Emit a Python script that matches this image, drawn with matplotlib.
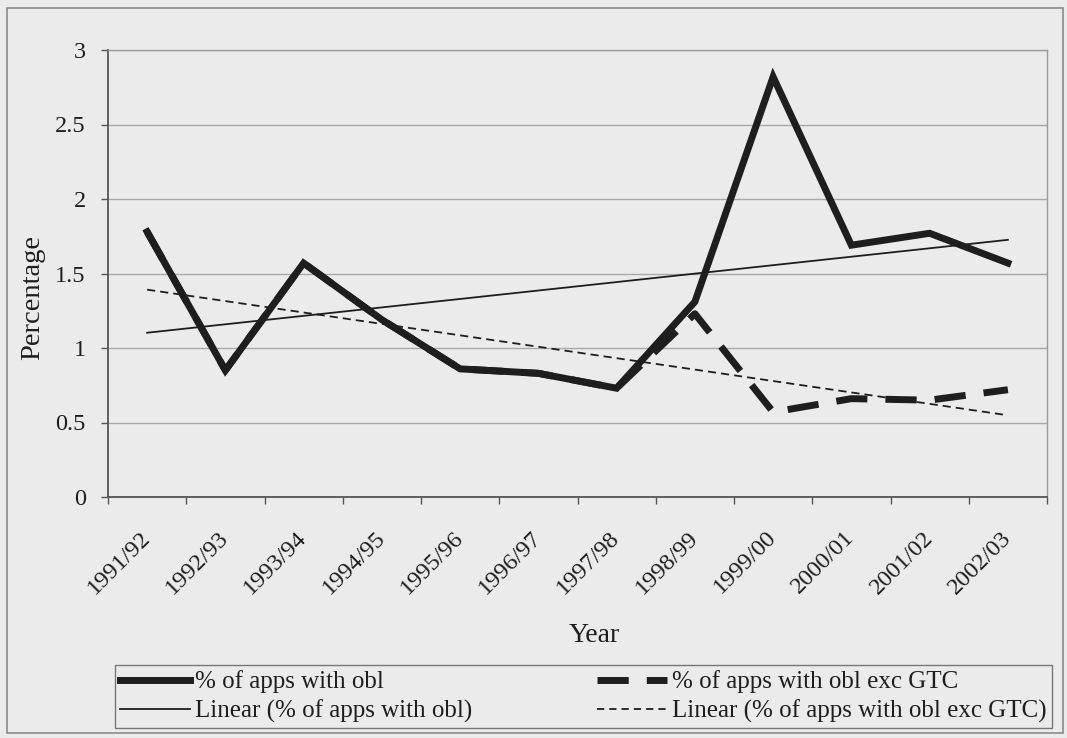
import numpy as np
import matplotlib
matplotlib.use("Agg")
import matplotlib.pyplot as plt
from matplotlib.lines import Line2D
from matplotlib.patches import Rectangle

years = ["1991/92", "1992/93", "1993/94", "1994/95", "1995/96", "1996/97",
         "1997/98", "1998/99", "1999/00", "2000/01", "2001/02", "2002/03"]
pct_obl = [1.78, 0.85, 1.57, 1.19, 0.86, 0.83, 0.73, 1.31, 2.82, 1.69, 1.77, 1.57]
pct_obl_exc_gtc = [1.78, 0.85, 1.57, 1.19, 0.86, 0.83, 0.73, 1.23, 0.57, 0.66, 0.65, 0.72]

plt.rcParams['font.family'] = ['Liberation Serif', 'DejaVu Serif']
bg = '#ebebeb'
ink = '#1e1e1e'

W, H = 1067, 738
fig = plt.figure(figsize=(W / 100, H / 100), dpi=100, facecolor=bg)

# outer chart border
fig.patches.append(Rectangle((7 / W, 5 / H), 1056 / W, 725 / H, transform=fig.transFigure,
                             fill=False, edgecolor='#8a8a8a', linewidth=1.2))

ax = fig.add_axes([108 / W, 1 - 497 / H, (1047 - 108) / W, (497 - 50) / H])
ax.set_facecolor(bg)

x = np.arange(len(years))

# linear trend lines (least squares, like a spreadsheet "Linear" trendline)
fit1 = np.polyfit(x, pct_obl, 1)
fit2 = np.polyfit(x, pct_obl_exc_gtc, 1)

ax.plot(x, pct_obl_exc_gtc, color=ink, linewidth=5, dashes=(4.5, 2.6),
        solid_capstyle='butt', zorder=3)
ax.plot(x, pct_obl, color=ink, linewidth=5, solid_joinstyle='miter', zorder=4)
ax.plot(x, np.polyval(fit1, x), color=ink, linewidth=1.3, zorder=5)
ax.plot(x, np.polyval(fit2, x), color=ink, linewidth=1.3, dashes=(4.5, 2.8), zorder=5)

ax.set_xlim(-0.5, len(years) - 0.5)
ax.set_ylim(0, 3)
ax.set_yticks(np.arange(0, 3.01, 0.5))
ax.set_yticklabels(['0', '0.5', '1', '1.5', '2', '2.5', '3'])
ax.yaxis.grid(True, color='#a9a9a9', linewidth=1.0)
ax.set_axisbelow(True)

# category labels at centres, tick marks at category boundaries
ax.set_xticks(x)
ax.set_xticklabels(years, rotation=45, ha='right', va='center', rotation_mode='anchor')
ax.set_xticks(np.arange(-0.5, len(years), 1), minor=True)
ax.tick_params(axis='x', which='major', length=0, pad=27, labelsize=17.5, labelcolor=ink)
ax.tick_params(axis='x', which='minor', length=5, width=1, color='#555555', direction='out')
ax.tick_params(axis='y', length=5, width=1, color='#555555', pad=11, labelsize=17.5, labelcolor=ink)

for side in ['left', 'bottom']:
    ax.spines[side].set_color('#555555')
    ax.spines[side].set_linewidth(1.3)
for side in ['top', 'right']:
    ax.spines[side].set_color('#9a9a9a')
    ax.spines[side].set_linewidth(1.0)

fig.text(33 / W, 1 - 298 / H, 'Percentage', rotation=90, ha='center', va='center',
         fontsize=20.5, color=ink)
fig.text(594 / W, 1 - 636 / H, 'Year', ha='center', va='center', fontsize=20, color=ink)

handles = [
    Line2D([], [], color=ink, linewidth=5),
    Line2D([], [], color=ink, linewidth=1.3),
    Line2D([], [], color=ink, linewidth=5, dashes=(4.5, 2.6)),
    Line2D([], [], color=ink, linewidth=1.3, dashes=(4.0, 2.8)),
]
labels = ['% of apps with obl', 'Linear (% of apps with obl)',
          '% of apps with obl exc GTC', 'Linear (% of apps with obl exc GTC)']
fig.legend(handles, labels, ncol=2, mode='expand',
           bbox_to_anchor=(115 / W, 1 - 728 / H, (1052 - 115) / W, 65 / H),
           loc='lower left', fontsize=18, frameon=True, fancybox=False,
           edgecolor='#777777', facecolor=bg, framealpha=1, borderpad=0.2,
           labelspacing=0.25, handlelength=2.8, handletextpad=0.2, borderaxespad=0,
           labelcolor=ink)
fig.legends[0].get_frame().set_linewidth(1.0)

fig.savefig('out.png', dpi=100, facecolor=bg)
